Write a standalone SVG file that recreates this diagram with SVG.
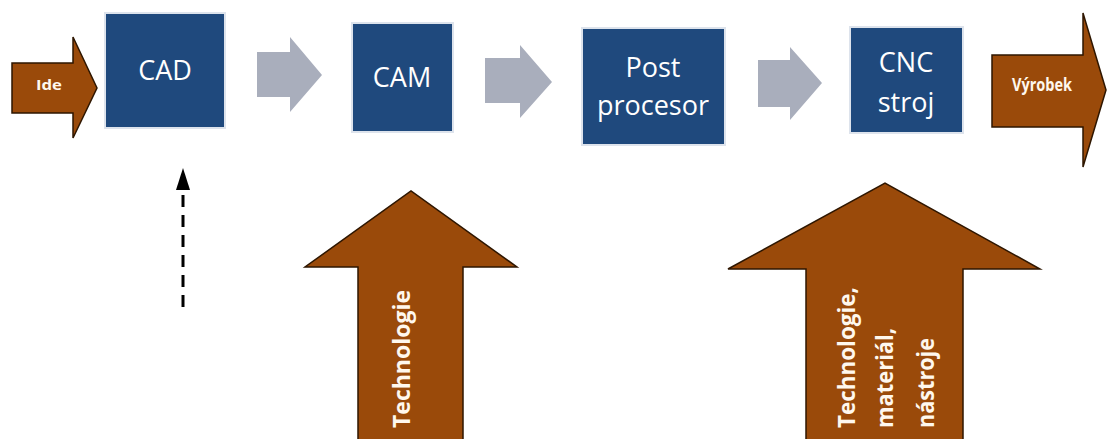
<svg xmlns="http://www.w3.org/2000/svg" width="1107" height="439" viewBox="0 0 1107 439">
  <style>
    .box { fill: #1f497d; stroke: #dde3ec; stroke-width: 2; }
    .boxtxt { font-family: "Open Sans", "Noto Sans", sans-serif; font-size: 27px; fill: #ffffff; text-anchor: middle; }
    .flow { fill: #a9aebc; }
    .brown { fill: #9a4a0a; stroke: #2e1600; stroke-width: 1.5; stroke-linejoin: miter; }
    .btxt { font-family: "Open Sans", "Liberation Sans", sans-serif; font-weight: bold; fill: #fff8ee; }
  </style>
  <rect width="1107" height="439" fill="#ffffff"/>

  <g id="ide">
    <path class="brown" d="M12,63 H73 V37 L97,88 L73,138 V113 H12 Z"/>
    <text class="btxt" x="49" y="90" font-size="15" text-anchor="middle" textLength="26" lengthAdjust="spacingAndGlyphs">Ide</text>
  </g>

  <g id="cad">
    <rect class="box" x="105" y="13" width="120" height="115"/>
    <text class="boxtxt" x="165" y="80">CAD</text>
  </g>

  <g id="cam">
    <rect class="box" x="352" y="23" width="101" height="109"/>
    <text class="boxtxt" x="402" y="87">CAM</text>
  </g>

  <g id="post">
    <rect class="box" x="582" y="28" width="143" height="117"/>
    <text class="boxtxt" x="653" y="77">Post</text>
    <text class="boxtxt" x="653" y="115">procesor</text>
  </g>

  <g id="cnc">
    <rect class="box" x="850" y="27" width="113" height="106"/>
    <text class="boxtxt" x="906" y="72">CNC</text>
    <text class="boxtxt" x="906" y="112">stroj</text>
  </g>

  <g id="vyrobek">
    <path class="brown" d="M992,55 H1083 V13 L1106,90 L1083,167 V127 H992 Z"/>
    <text class="btxt" x="1042" y="91" font-size="17" text-anchor="middle" textLength="60" lengthAdjust="spacingAndGlyphs">Výrobek</text>
  </g>

  <g id="technologie">
    <path class="brown" d="M358,439 V267 H305 L411,191 L517,267 H463 V439"/>
    <text class="btxt" font-size="24" transform="translate(410,428) rotate(-90)" textLength="138" lengthAdjust="spacingAndGlyphs">Technologie</text>
  </g>

  <g id="vstupy">
    <path class="brown" d="M806,439 V269 H728 L885,183 L1040,269 H963 V439"/>
    <text class="btxt" font-size="24" transform="translate(855,428) rotate(-90)" textLength="141" lengthAdjust="spacingAndGlyphs">Technologie,</text>
    <text class="btxt" font-size="24" transform="translate(893,428) rotate(-90)" textLength="100" lengthAdjust="spacingAndGlyphs">materiál,</text>
    <text class="btxt" font-size="24" transform="translate(934,428) rotate(-90)" textLength="90" lengthAdjust="spacingAndGlyphs">nástroje</text>
  </g>

  <g id="connectors">
    <path class="flow" d="M257,52 H290 V37 L322,75 L290,112 V97 H257 Z"/>
    <path class="flow" d="M485,58 H520 V45 L552,82 L520,118 V103 H485 Z"/>
    <path class="flow" d="M758,60 H790 V47 L822,83 L790,120 V107 H758 Z"/>
    <line x1="183" y1="307" x2="183" y2="190" stroke="#000" stroke-width="3" stroke-dasharray="12,8"/>
    <path d="M176,190 L183,168 L190,190 Z" fill="#000"/>
  </g>
</svg>
